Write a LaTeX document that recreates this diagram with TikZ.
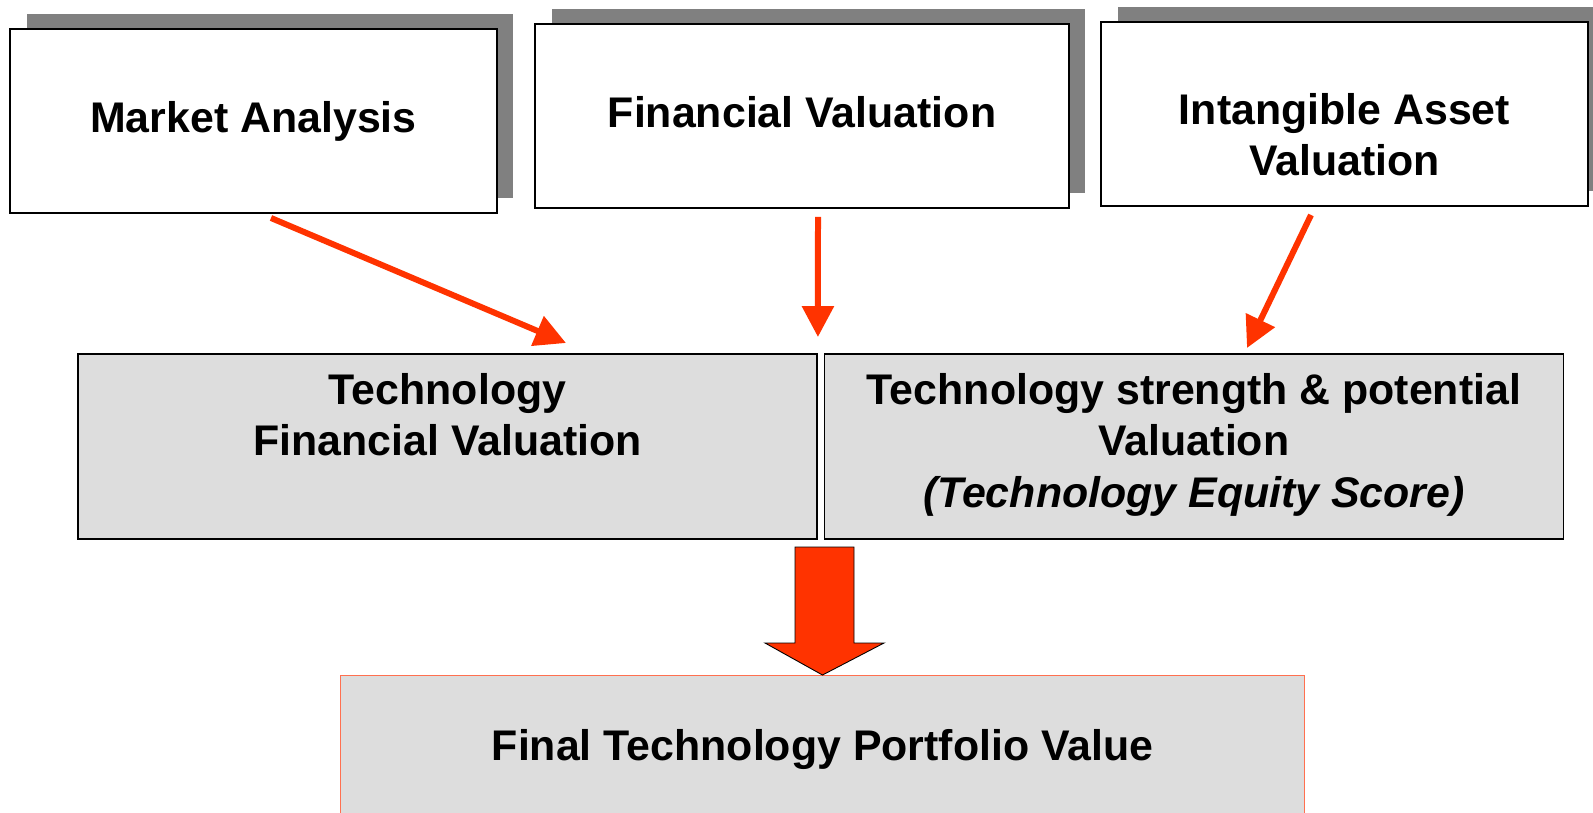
\documentclass[tikz,border=0pt]{standalone}
\usepackage{fontspec}
\setmainfont{Liberation Sans}
\usetikzlibrary{arrows.meta,shadows,calc}
\definecolor{arrowred}{HTML}{FF3300}
\definecolor{shadowgray}{HTML}{808080}
\definecolor{boxgray}{HTML}{DDDDDD}
\definecolor{edgeorange}{HTML}{FF7050}

\begin{document}
\begin{tikzpicture}[x=0.02cm, y=-0.02cm,
    topbox/.style={rectangle, draw=black, line width=0.8pt, fill=white, inner sep=0pt, outer sep=0pt, minimum height=3.68cm,
        drop shadow={shadow xshift=0.33cm, shadow yshift=0.3cm, fill=shadowgray, opacity=1}},
    midbox/.style={rectangle, draw=black, line width=0.8pt, fill=boxgray, inner sep=0pt, outer sep=0pt, minimum width=14.78cm, minimum height=3.7cm},
    txt/.style={anchor=north, inner sep=0pt, align=center, font=\fontsize{24.4pt}{29.2pt}\selectfont\bfseries},
    arrow/.style={-{Triangle[length=0.62cm, width=0.62cm]}, line width=0.12cm, arrowred}
]
    \useasboundingbox (0,0) rectangle (1593,812);

    \node[topbox, minimum width=9.74cm] (market) at (253.5,121) {};
    \node[topbox, minimum width=10.68cm] (finval) at (802,116) {};
    \node[topbox, minimum width=9.74cm] (intang) at (1344.5,114) {};
    \node[midbox] (techfin) at (447.5,446.5) {};
    \node[midbox] (techstr) at (1194,446.5) {};
    \node[rectangle, draw=edgeorange, line width=0.6pt, fill=boxgray, inner sep=0pt, outer sep=0pt,
        minimum width=19.3cm, minimum height=3.6cm] (final) at (822.5,765) {};

    \node[txt] (market-t) at (253.5,101) {Market Analysis};
    \node[txt] (finval-t) at (802,96) {Financial Valuation};
    \node[txt] (intang-t) at (1344.5,93) {Intangible Asset\\Valuation};
    \node[txt] (techfin-t) at (447.5,373) {Technology\\Financial Valuation};
    \node[txt] (techstr-t) at (1194,373) {Technology strength \& potential\\Valuation\\{\itshape (Technology Equity Score)}};
    \node[txt] (final-t) at (822.5,729) {Final Technology Portfolio Value};

    \draw[arrow] ($(market.south)+(17.5,5)$) -- ($(techfin.north)+(118.5,-11)$);
    \draw[arrow] ($(finval.south)+(16,9)$) -- ($(techfin.north east)+(1,-17)$);
    \draw[arrow] ($(intang.south)+(-33.5,9)$) -- ($(techstr.north)+(53,-6)$);

    \draw[fill=arrowred, draw=black, line width=0.5pt] (795,547) -- (854,547) -- (854,643) -- (884,643)
        -- (final.north) -- (765,643) -- (795,643) -- cycle;
\end{tikzpicture}
\end{document}
